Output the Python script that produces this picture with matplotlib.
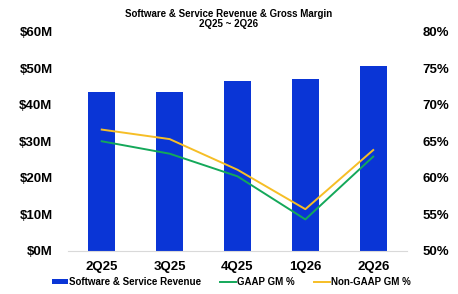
import matplotlib.pyplot as plt
import numpy as np

plt.rcParams['font.family'] = ['Liberation Sans', 'DejaVu Sans']

quarters = ['2Q25', '3Q25', '4Q25', '1Q26', '2Q26']
revenue = [43.6, 43.5, 46.6, 47.0, 50.6]          # $M
gaap_gm = [65.0, 63.3, 60.2, 54.3, 62.9]           # %
non_gaap_gm = [66.6, 65.3, 61.1, 55.7, 63.8]       # %

x = np.arange(len(quarters))

fig = plt.figure(figsize=(4.58, 2.94), dpi=100)
ax = fig.add_axes([0.148, 0.147, 0.741, 0.745])
ax2 = ax.twinx()

bars = ax.bar(x, revenue, width=0.4, color='#0A35D6', label='Software & Service Revenue', zorder=2)
l1, = ax2.plot(x, gaap_gm, color='#14A85A', lw=1.4, label='GAAP GM %')
l2, = ax2.plot(x, non_gaap_gm, color='#F6BE26', lw=1.4, label='Non-GAAP GM %')

ax.set_xlim(-0.5, 4.5)
ax.set_ylim(0, 60)
ax.set_yticks(range(0, 61, 10))
ax.set_yticklabels([f'${v}M' for v in range(0, 61, 10)], fontsize=9.5, fontweight='bold')
ax2.set_ylim(50, 80)
ax2.set_yticks(range(50, 81, 5))
ax2.set_yticklabels([f'{v}%' for v in range(50, 81, 5)], fontsize=9.5, fontweight='bold')
ax.set_xticks(x)
ax.set_xticklabels(quarters, fontsize=9.5, fontweight='bold')

for a in (ax, ax2):
    for s in ('top', 'left', 'right'):
        a.spines[s].set_visible(False)
    a.spines['bottom'].set_color('#D9D9D9')
    a.tick_params(length=0, pad=11)
ax2.spines['bottom'].set_visible(False)
ax.tick_params(axis='x', pad=7)

fig.suptitle('Software & Service Revenue & Gross Margin\n2Q25 ~ 2Q26', y=0.97,
             fontsize=7, fontweight='bold', linespacing=1.05)

fig.legend([bars, l1, l2], ['Software & Service Revenue', 'GAAP GM %', 'Non-GAAP GM %'],
           loc='lower center', bbox_to_anchor=(0.505, -0.005), ncol=3, frameon=False,
           prop={'size': 7, 'weight': 'bold'}, handlelength=1.65, handletextpad=0.1,
           columnspacing=2.0, handleheight=0.45)

fig.savefig('out.png', dpi=100)
